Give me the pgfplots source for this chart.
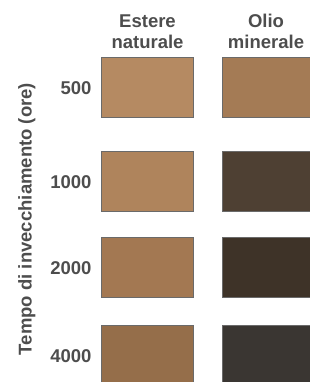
\documentclass[border=0pt]{standalone}
\usepackage{pgfplots}
\pgfplotsset{compat=1.18}
\usepackage{fontspec}
\setmainfont{Liberation Sans}
\definecolor{txt}{HTML}{4D4D4D}
\definecolor{bord}{HTML}{6A6A6A}
\definecolor{Lone}{HTML}{B58A62}
\definecolor{Ltwo}{HTML}{AF845C}
\definecolor{Lthree}{HTML}{A37852}
\definecolor{Lfour}{HTML}{956E4A}
\definecolor{Rone}{HTML}{A47B55}
\definecolor{Rtwo}{HTML}{4E4033}
\definecolor{Rthree}{HTML}{3E3328}
\definecolor{Rfour}{HTML}{3A3632}
\begin{document}
\begin{tikzpicture}
\begin{axis}[
  scale only axis,
  width=214pt, height=330pt,
  xmin=95, xmax=309, ymin=0, ymax=330,
  clip=false,
  axis line style={draw=none},
  tick style={draw=none},
  major tick length=0pt,
  xtick={147.5,266},
  xticklabels={{Estere\\naturale},{Olio\\minerale}},
  xticklabel pos=upper,
  xticklabel style={align=center, font=\fontsize{18.5}{20.5}\selectfont\bfseries, text=txt},
  ytick={26,114,200,294},
  yticklabels={4000,2000,1000,500},
  yticklabel style={font=\fontsize{18.5}{20.5}\selectfont\bfseries, text=txt},
  ylabel={Tempo di invecchiamento (ore)},
  ylabel style={at={(axis description cs:-0.318,0.494)}, anchor=center, font=\fontsize{18.5}{20.5}\selectfont\bfseries, text=txt},
]
% Estere naturale
\addplot[draw=bord, line width=1pt, fill=Lone] coordinates {(102,264) (193,264) (193,324) (102,324)} -- cycle;
\addplot[draw=bord, line width=1pt, fill=Ltwo] coordinates {(102,170) (193,170) (193,230) (102,230)} -- cycle;
\addplot[draw=bord, line width=1pt, fill=Lthree] coordinates {(102,84) (193,84) (193,144) (102,144)} -- cycle;
\addplot[draw=bord, line width=1pt, fill=Lfour] coordinates {(102,-30) (193,-30) (193,56) (102,56)} -- cycle;
% Olio minerale
\addplot[draw=bord, line width=1pt, fill=Rone] coordinates {(222,264) (340,264) (340,324) (222,324)} -- cycle;
\addplot[draw=bord, line width=1pt, fill=Rtwo] coordinates {(222,170) (340,170) (340,230) (222,230)} -- cycle;
\addplot[draw=bord, line width=1pt, fill=Rthree] coordinates {(222,84) (340,84) (340,144) (222,144)} -- cycle;
\addplot[draw=bord, line width=1pt, fill=Rfour] coordinates {(222,-30) (340,-30) (340,56) (222,56)} -- cycle;
\end{axis}
\pgfresetboundingbox
\path (current axis.south west) ++(-95pt,0pt) rectangle ++(309pt,382pt);
\end{tikzpicture}
\end{document}
